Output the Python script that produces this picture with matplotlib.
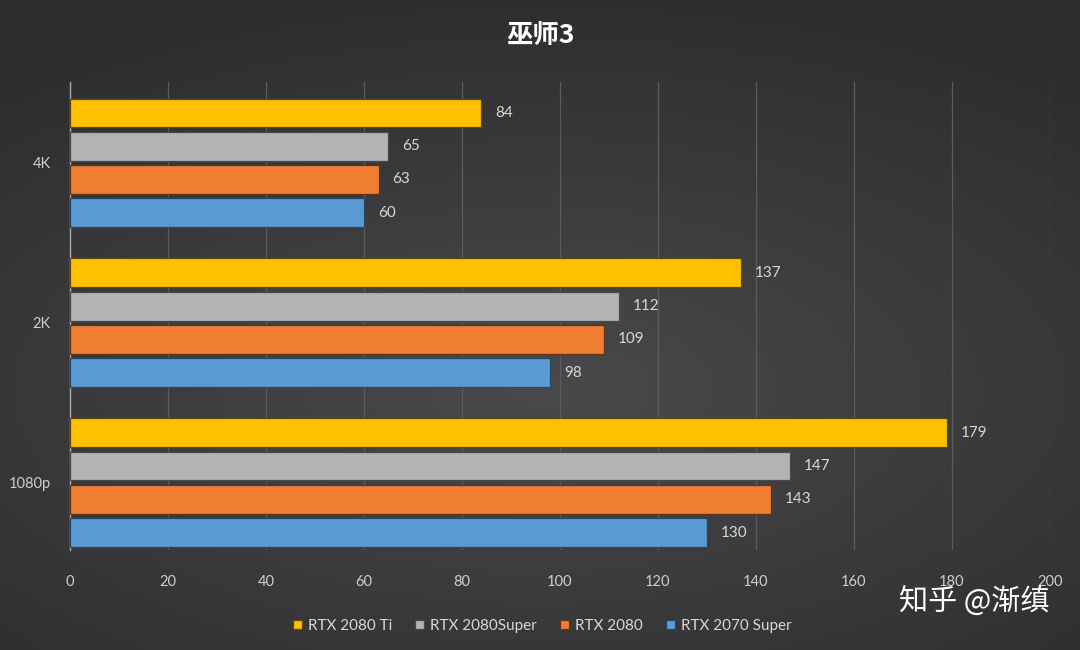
import matplotlib.pyplot as plt
import numpy as np

plt.rcParams['font.family'] = ['Lato', 'Noto Sans CJK SC', 'DejaVu Sans']

# data
resolutions = ['1080p', '2K', '4K']
gpus = ['RTX 2080 Ti', 'RTX 2080Super', 'RTX 2080', 'RTX 2070 Super']
fps = {
    'RTX 2080 Ti': [179, 137, 84],
    'RTX 2080Super': [147, 112, 65],
    'RTX 2080': [143, 109, 63],
    'RTX 2070 Super': [130, 98, 60],
}
colors = ['#FFC000', '#B4B2B4', '#F07D32', '#5B9BD5']
edges = ['#5e4a10', '#4a494a', '#5e3418', '#2a4660']

fig = plt.figure(figsize=(10.8, 6.5), dpi=100)
fig.patch.set_facecolor('#3a3a3c')

# dark gradient background, a bit lighter in the middle
bg = fig.add_axes([0, 0, 1, 1], zorder=-10)
xx, yy = np.meshgrid(np.linspace(-1, 1, 300), np.linspace(-1, 1, 200))
r = np.clip(np.sqrt((xx * 0.8) ** 2 + ((yy - 0.2) * 1.0) ** 2), 0, 1.3)
lev = 0.29 - 0.09 * r
img = np.dstack([lev, lev, lev + 0.008])
bg.imshow(img, aspect='auto', extent=[0, 1, 0, 1])
bg.axis('off')

ax = fig.add_axes([0.0648, 0.154, 0.9072, 0.720])
ax.set_facecolor('none')

y = np.arange(len(resolutions))
h = 0.18
step = 0.208
offsets = [1.5 * step, 0.5 * step, -0.5 * step, -1.5 * step]

for i, g in enumerate(gpus):
    vals = fps[g]
    bars = ax.barh(y + offsets[i], vals, height=h, color=colors[i],
                   edgecolor=edges[i], linewidth=0.9, label=g, zorder=3)
    for b, v in zip(bars, vals):
        ax.annotate(str(v), (b.get_width(), b.get_y() + b.get_height() / 2),
                    xytext=(10, 0), textcoords='offset points',
                    va='center', ha='left', color='#d8d8d8', fontsize=11)

ax.set_xlim(0, 200)
ax.set_ylim(-0.42, 2.506)
ax.set_xticks(range(0, 201, 20))
ax.set_yticks(y)
ax.set_yticklabels(resolutions)
ax.grid(axis='x', color='#5c5c5e', linewidth=0.9, zorder=0)
for s in ['top', 'right', 'bottom']:
    ax.spines[s].set_visible(False)
ax.spines['left'].set_color('#a8a8a8')
ax.spines['left'].set_linewidth(1.0)
ax.tick_params(axis='both', length=0, colors='#cfcfcf', labelsize=10.5)
ax.tick_params(axis='x', pad=18)
ax.tick_params(axis='y', pad=14)

fig.text(0.5, 0.945, '巫师3', ha='center', va='center', color='white',
         fontsize=19, fontweight='bold', family=['Noto Sans CJK SC', 'DejaVu Sans'])

leg = fig.legend(*ax.get_legend_handles_labels(), loc='center', bbox_to_anchor=(0.502, 0.037),
                 ncol=4, frameon=False, fontsize=11, handlelength=0.6, handleheight=0.6,
                 handletextpad=0.4, columnspacing=1.5)
for t in leg.get_texts():
    t.set_color('#d8d8d8')

fig.text(0.972, 0.072, '知乎 @渐缜', ha='right', va='center', color='white',
         fontsize=21, family=['Noto Sans CJK SC', 'DejaVu Sans'])

fig.savefig('out.png', dpi=100, facecolor=fig.get_facecolor())
